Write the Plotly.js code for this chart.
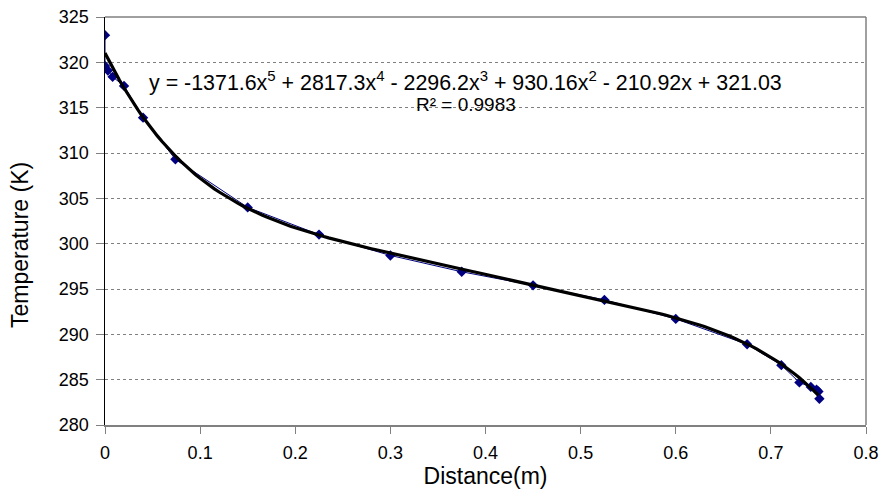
<!DOCTYPE html>
<html>
<head>
<meta charset="utf-8">
<script src="https://cdn.plot.ly/plotly-3.0.1.min.js"></script>
<style>html,body{margin:0;padding:0;background:#fff}#chart{width:884px;height:498px}</style>
</head>
<body>
<div id="chart"></div>
<script>
// Measured data points (Distance in m, Temperature in K)
const distance = [0, 0, 0.003, 0.008, 0.02, 0.04, 0.074, 0.15, 0.225, 0.30, 0.375, 0.45, 0.525, 0.60, 0.675, 0.711, 0.730, 0.742, 0.748, 0.750, 0.751];
const temperature = [323.0, 319.6, 319.1, 318.4, 317.4, 313.9, 309.3, 304.0, 301.0, 298.7, 296.9, 295.4, 293.8, 291.7, 288.9, 286.6, 284.7, 284.2, 283.9, 283.7, 282.9];
// Trendline coefficients shown on the chart (highest power first)
const trendCoeffs = [-1371.6, 2817.3, -2296.2, 930.16, -210.92, 321.03];
const trendRange = [0, 0.75];
const yTicks = [280, 285, 290, 295, 300, 305, 310, 315, 320, 325];
const xTicks = [0, 0.1, 0.2, 0.3, 0.4, 0.5, 0.6, 0.7, 0.8];
const xTitle = 'Distance(m)';
const yTitle = 'Temperature (K)';
const equationText = 'y = -1371.6x<sup>5</sup> + 2817.3x<sup>4</sup> - 2296.2x<sup>3</sup> + 930.16x<sup>2</sup> - 210.92x + 321.03';
const r2Text = 'R² = 0.9983';

const tx = [], ty = [];
const nT = 150;
for (let i = 0; i <= nT; i++) {
  const x = trendRange[0] + (trendRange[1] - trendRange[0]) * i / nT;
  let y = 0;
  for (const c of trendCoeffs) y = y * x + c;
  tx.push(x); ty.push(y);
}

const font = 'Arial, "Liberation Sans", sans-serif';
const plotTop = 17, plotBottom = 425, plotH = plotBottom - plotTop;
const data = [
  {x: distance, y: temperature, type: 'scatter', mode: 'lines+markers',
   line: {color: '#000080', width: 1},
   marker: {symbol: 'diamond', size: 8, color: '#000080'}},
  {x: tx, y: ty, type: 'scatter', mode: 'lines',
   line: {color: '#000000', width: 3.2}}
];
const layout = {
  width: 884, height: 498,
  margin: {l: 105, r: 18, t: plotTop, b: 498 - plotBottom},
  paper_bgcolor: '#fff', plot_bgcolor: '#fff',
  showlegend: false,
  font: {family: font, size: 18, color: '#000'},
  xaxis: {range: [0, 0.8], tickvals: xTicks, ticktext: xTicks.map(String),
    showgrid: false, zeroline: false, showline: true, linecolor: '#808080', linewidth: 1.5,
    ticks: 'outside', ticklen: 7, tickcolor: '#808080', tickwidth: 1, ticklabelstandoff: 4,
    tickfont: {family: font, size: 18, color: '#000'},
    title: {text: xTitle, font: {family: font, size: 23, color: '#000'}, standoff: 4}},
  yaxis: {range: [280, 325], tickvals: yTicks, ticktext: yTicks.map(String),
    showgrid: true, gridcolor: '#808080', gridwidth: 1, griddash: 'dot',
    zeroline: false, showline: true, linecolor: '#000', linewidth: 1.5,
    ticks: 'outside', ticklen: 8, tickcolor: '#808080', tickwidth: 1, ticklabelstandoff: 3,
    tickfont: {family: font, size: 18, color: '#000'}},
  shapes: [
    {type: 'line', xref: 'paper', yref: 'paper', x0: 0, x1: 1, y0: 1, y1: 1, line: {color: '#808080', width: 1.5}},
    {type: 'line', xref: 'paper', yref: 'paper', x0: 1, x1: 1, y0: 0, y1: 1, line: {color: '#808080', width: 1.5}}
  ],
  annotations: [
    {xref: 'paper', yref: 'paper', x: 0.474, y: (plotBottom - 81) / plotH, xanchor: 'center', yanchor: 'middle',
     text: equationText, showarrow: false, borderpad: 0, font: {family: font, size: 21.4, color: '#000'}},
    {xref: 'paper', yref: 'paper', x: 0.474, y: (plotBottom - 104) / plotH, xanchor: 'center', yanchor: 'middle',
     text: r2Text, showarrow: false, borderpad: 0, font: {family: font, size: 19, color: '#000'}},
    {xref: 'paper', yref: 'paper', x: (20 - 105) / 761, y: (plotBottom - 245) / plotH, xanchor: 'center', yanchor: 'middle',
     text: yTitle, textangle: -90, showarrow: false, font: {family: font, size: 23, color: '#000'}}
  ]
};
Plotly.newPlot('chart', data, layout, {displayModeBar: false, staticPlot: true});
</script>
</body>
</html>
